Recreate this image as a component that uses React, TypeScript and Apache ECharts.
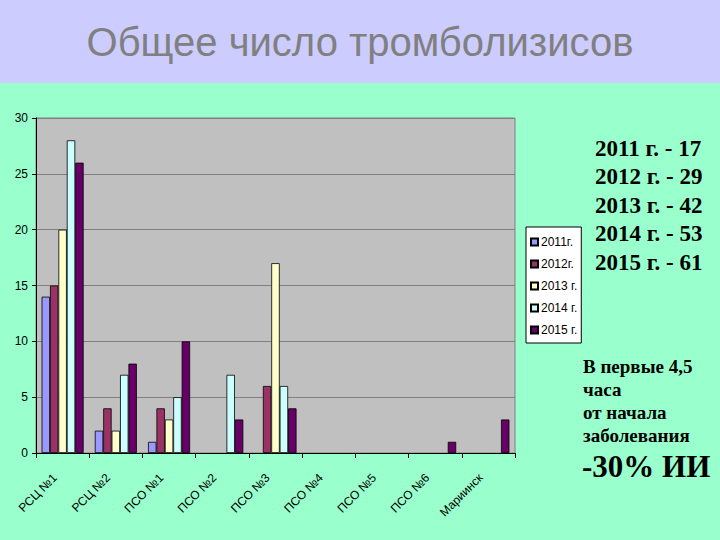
import React, { useEffect, useRef } from "react";
import * as echarts from "echarts";

const categories = ["РСЦ №1", "РСЦ №2", "ПСО №1", "ПСО №2", "ПСО №3", "ПСО №4", "ПСО №5", "ПСО №6", "Мариинск"];
const seriesNames = ["2011г.", "2012г.", "2013 г.", "2014 г.", "2015 г."];
const v2011 = [14, 2, 1, 0, 0, 0, 0, 0, 0];
const v2012 = [15, 4, 4, 0, 6, 0, 0, 0, 0];
const v2013 = [20, 2, 3, 0, 17, 0, 0, 0, 0];
const v2014 = [28, 7, 5, 7, 6, 0, 0, 0, 0];
const v2015 = [26, 8, 10, 3, 4, 0, 0, 1, 3];
const seriesColors = ["#9999FF", "#993366", "#FFFFCC", "#CCFFFF", "#660066"];
const yTicks = { min: 0, max: 30, interval: 5 };

const title = "Общее число тромболизисов";
const totals = ["2011 г. - 17", "2012 г. - 29", "2013 г. - 42", "2014 г. - 53", "2015 г. - 61"];
const noteLines = ["В первые 4,5", "часа", "от начала", "заболевания"];
const noteBig = "-30% ИИ";

export default function App() {
  const ref = useRef<HTMLDivElement>(null);
  useEffect(() => {
    document.body.style.margin = "0";
    const chart = echarts.init(ref.current!, null, { renderer: "svg" });
    const allValues = [v2011, v2012, v2013, v2014, v2015];
    const series = allValues.map((vals, i) => ({
      name: seriesNames[i],
      type: "bar",
      data: vals.map((v) => (v === 0 ? null : v)),
      barGap: "0%",
      barCategoryGap: "21%",
      itemStyle: { color: seriesColors[i], borderColor: "#000", borderWidth: 0.8 },
    }));
    const graphics: any[] = [
      { type: "rect", shape: { x: 0, y: 0, width: 720, height: 83 }, style: { fill: "#CCCCFF" }, z: -10 },
      {
        type: "text",
        x: 360,
        y: 42,
        style: {
          text: title,
          font: "40px 'Liberation Sans', Arial, sans-serif",
          fill: "#808080",
          textAlign: "center",
          textVerticalAlign: "middle",
        },
      },
    ];
    totals.forEach((t, i) => {
      graphics.push({
        type: "text",
        x: 595,
        y: 148 + i * 28.5,
        style: {
          text: t,
          font: "bold 23px 'Liberation Serif', 'Times New Roman', serif",
          fill: "#000",
          textVerticalAlign: "middle",
        },
      });
    });
    noteLines.forEach((t, i) => {
      graphics.push({
        type: "text",
        x: 583,
        y: 366 + i * 23,
        style: {
          text: t,
          font: "bold 19px 'Liberation Serif', 'Times New Roman', serif",
          fill: "#000",
          textVerticalAlign: "middle",
        },
      });
    });
    graphics.push({
      type: "text",
      x: 582,
      y: 466,
      style: {
        text: noteBig,
        font: "bold 31px 'Liberation Serif', 'Times New Roman', serif",
        fill: "#000",
        textVerticalAlign: "middle",
      },
    });

    chart.setOption({
      animation: false,
      backgroundColor: "#99FFCC",
      grid: {
        left: 36,
        right: 205,
        top: 118,
        bottom: 87,
        show: true,
        backgroundColor: "#C0C0C0",
        borderColor: "#808080",
        borderWidth: 1,
      },
      legend: {
        orient: "vertical",
        left: 526,
        top: 227,
        data: seriesNames,
        backgroundColor: "#FFFFFF",
        borderColor: "#000",
        borderWidth: 1,
        borderRadius: 0,
        padding: [9, 4, 7, 4],
        itemGap: 10,
        itemWidth: 7,
        itemHeight: 7,
        icon: "rect",
        textStyle: { fontFamily: "'Liberation Sans', Arial, sans-serif", fontSize: 12, color: "#000", padding: [0, 0, 0, -2] },
      },
      xAxis: {
        type: "category",
        data: categories,
        axisLine: { lineStyle: { color: "#000", width: 1 } },
        axisTick: { show: true, length: 5, lineStyle: { color: "#000" } },
        axisLabel: {
          rotate: 45,
          margin: 15,
          padding: [0, 11, 0, 0],
          fontFamily: "'Liberation Sans', Arial, sans-serif",
          fontSize: 12,
          color: "#000",
          interval: 0,
        },
      },
      yAxis: {
        type: "value",
        min: yTicks.min,
        max: yTicks.max,
        interval: yTicks.interval,
        axisLine: { show: true, lineStyle: { color: "#000", width: 1 } },
        axisTick: { show: true, length: 4, lineStyle: { color: "#000" } },
        axisLabel: {
          margin: 8,
          fontFamily: "'Liberation Sans', Arial, sans-serif",
          fontSize: 12,
          color: "#000",
        },
        splitLine: { lineStyle: { color: "#808080", width: 1 } },
      },
      series,
      graphic: graphics,
    });
    return () => chart.dispose();
  }, []);
  return <div ref={ref} style={{ position: "absolute", left: 0, top: 0, width: 720, height: 540 }} />;
}
